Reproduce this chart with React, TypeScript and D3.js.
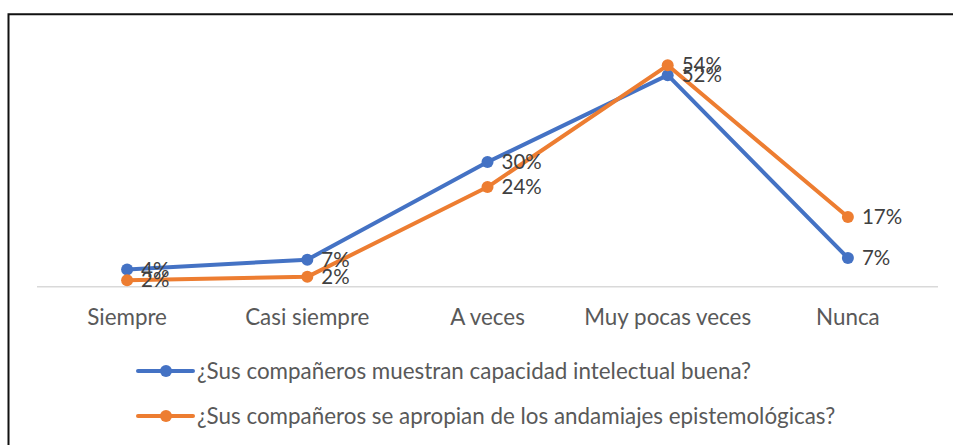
import React from "react";
import * as d3 from "d3";

const categories = ["Siempre", "Casi siempre", "A veces", "Muy pocas veces", "Nunca"];
const seriesNames = [
  "¿Sus compañeros muestran capacidad intelectual buena?",
  "¿Sus compañeros se apropian de los andamiajes epistemológicas?",
];
const blueValues = [4.2, 6.6, 30.4, 51.6, 7.0];
const orangeValues = [1.6, 2.4, 24.3, 54.0, 17.0];
const colors = ["#4472C4", "#ED7D31"];

const W = 953;
const H = 445;

export default function App() {
  const x = d3.scaleBand<string>().domain(categories).range([37, 938]);
  const y = d3.scaleLinear().domain([0, 60]).range([286.7, 40.7]);
  const series = [blueValues, orangeValues];
  const line = d3
    .line<number>()
    .x((_, i) => (x(categories[i]) as number) + x.bandwidth() / 2)
    .y((d) => y(d));
  const font = "Lato, 'Open Sans', sans-serif";
  return (
    <svg
      width={W}
      height={H}
      style={{ position: "absolute", left: 0, top: 0, background: "#fff" }}
    >
      <path d={`M8.5,${H} V14.3 H${W}`} fill="none" stroke="#111" strokeWidth={2} />
      <line x1={37} x2={938} y1={y(0)} y2={y(0)} stroke="#D9D9D9" strokeWidth={1.5} />
      {categories.map((c) => (
        <text
          key={c}
          x={(x(c) as number) + x.bandwidth() / 2}
          y={325}
          textAnchor="middle"
          fontFamily={font}
          fontSize={22.4}
          fill="#595959"
        >
          {c}
        </text>
      ))}
      {series.map((vals, si) => (
        <g key={si}>
          <path
            d={line(vals) || ""}
            fill="none"
            stroke={colors[si]}
            strokeWidth={4}
            strokeLinejoin="round"
            strokeLinecap="round"
          />
          {vals.map((v, i) => (
            <circle
              key={i}
              cx={(x(categories[i]) as number) + x.bandwidth() / 2}
              cy={y(v)}
              r={6}
              fill={colors[si]}
            />
          ))}
        </g>
      ))}
      {series.map((vals, si) =>
        vals.map((v, i) => (
          <text
            key={`${si}-${i}`}
            x={(x(categories[i]) as number) + x.bandwidth() / 2 + 14}
            y={y(v)}
            dy="0.35em"
            fontFamily={font}
            fontSize={20.5}
            fill="#404040"
          >
            {`${Math.round(v)}%`}
          </text>
        ))
      )}
      {seriesNames.map((name, si) => {
        const ly = 371 + si * 45;
        return (
          <g key={name}>
            <line x1={138} x2={193} y1={ly} y2={ly} stroke={colors[si]} strokeWidth={4} strokeLinecap="round" />
            <circle cx={166} cy={ly} r={6} fill={colors[si]} />
            <text x={197} y={ly} dy="0.35em" fontFamily={font} fontSize={22.4} fill="#595959">
              {name}
            </text>
          </g>
        );
      })}
    </svg>
  );
}
